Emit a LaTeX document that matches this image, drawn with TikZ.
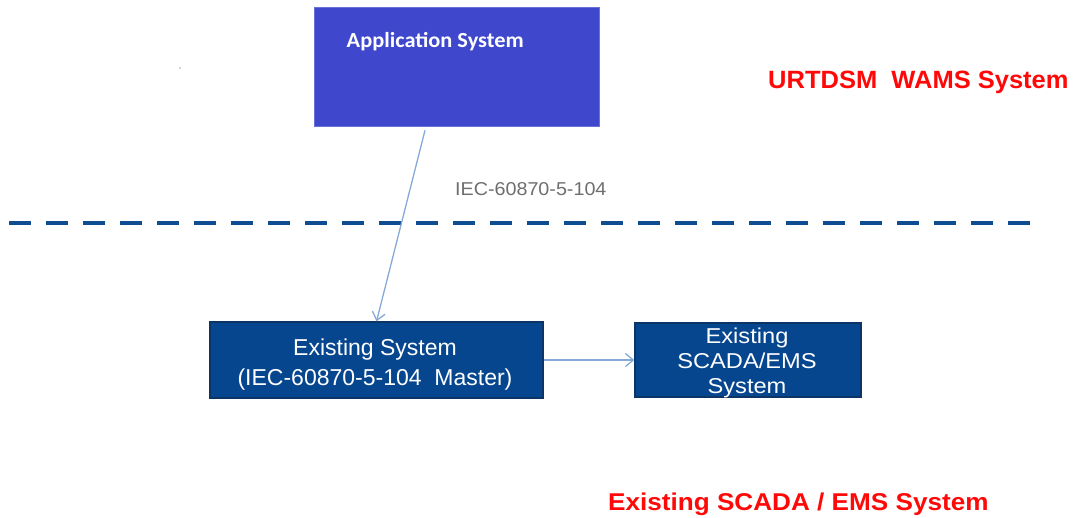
\documentclass[tikz,border=0pt]{standalone}
\usepackage{graphicx}
\usepackage{fontspec}
\setmainfont{Liberation Sans}
\newfontfamily\calib{Carlito}
\usetikzlibrary{arrows.meta}
\definecolor{appblue}{HTML}{3F48CC}
\definecolor{appedge}{HTML}{6A72DA}
\definecolor{sysblue}{HTML}{05468F}
\definecolor{sysedge}{HTML}{0B3566}
\definecolor{linkblue}{HTML}{86A9D8}
\definecolor{dashblue}{HTML}{0F4C92}
\definecolor{labgray}{HTML}{6E6E6E}
\definecolor{zonered}{HTML}{FF0808}
% horizontally widened text
\newcommand\widen[2]{\scalebox{#1}[1]{#2}}
\tikzset{
  appbox/.style={draw=appedge, line width=0.8pt, fill=appblue, inner sep=0pt},
  sysbox/.style={draw=sysedge, line width=1.2pt, fill=sysblue, inner sep=0pt},
  boxtext/.style={text=white, inner sep=0pt},
  link/.style={draw=linkblue, line width=1.3pt,
    -{Straight Barb[length=8pt,width=13pt,line width=1.3pt]}},
  zone/.style={text=zonered, font=\bfseries, anchor=base west, inner sep=0pt},
}
\begin{document}
\begin{tikzpicture}[x=1pt,y=-1pt]
\useasboundingbox (0,0) rectangle (1075,517);
% application side
\node[appbox, minimum width=285pt, minimum height=119pt] (app) at (456.5,66.5) {};
\node[anchor=base west, inner sep=0pt, text=white,
  font=\calib\bfseries\fontsize{21.5}{24}\selectfont] (apptext) at (346.5,47)
  {\widen{1.04}{Application System}};
\fill[labgray!60] (180,68) circle (0.8);
% boundary between the two systems
\draw[dashblue, line width=4pt, dash pattern=on 21.5pt off 15.5pt] (9,222.5) -- (1030,222.5);
\node[zone, font=\bfseries\fontsize{25}{28}\selectfont] (wams) at (768,88)
  {\widen{1.02}{URTDSM\ \ WAMS System}};
\node[zone, font=\bfseries\fontsize{24.3}{28}\selectfont] (scadazone) at (608,510.7)
  {\widen{1.075}{Existing SCADA / EMS System}};
% existing systems
\node[sysbox, minimum width=333pt, minimum height=76pt] (master) at (376.5,360) {};
\node[boxtext, font=\fontsize{23}{30}\selectfont] (mastertext) at (375,364)
  {\begin{tabular}{@{}c@{}}Existing System\\(IEC-60870-5-104\ \ Master)\end{tabular}};
\node[sysbox, minimum width=226pt, minimum height=74pt] (scada) at (748,360) {};
\node[boxtext, font=\fontsize{21.5}{25}\selectfont] (scadatext) at (747,363.3)
  {\widen{1.1}{\begin{tabular}{@{}c@{}}Existing\\SCADA/EMS\\System\end{tabular}}};
% connectors
\draw[link, shorten <=4pt] ([xshift=-30.5pt]app.south) -- (master.north);
\node[text=labgray, anchor=base west, inner sep=0pt,
  font=\fontsize{18.6}{21}\selectfont] (proto) at (455,195)
  {\widen{1.06}{IEC-60870-5-104}};
\draw[link] (master.east) -- (scada.west);
\end{tikzpicture}
\end{document}
